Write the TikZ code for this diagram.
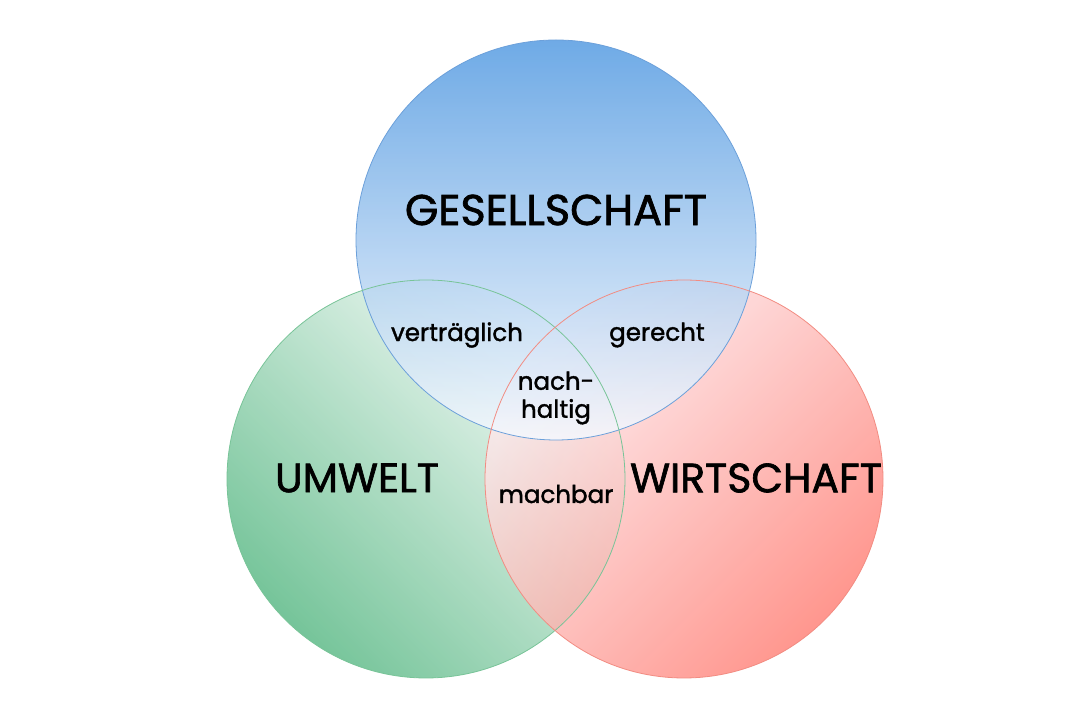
\documentclass[tikz,border=0pt]{standalone}
\usepackage{fontspec}
\setmainfont{Poppins}[FakeBold=1.6]
\definecolor{gblue}{RGB}{86,156,226}
\definecolor{gbluel}{RGB}{246,249,254}
\definecolor{ggreen}{RGB}{88,184,132}
\definecolor{ggreenl}{RGB}{248,252,250}
\definecolor{gred}{RGB}{255,128,118}
\definecolor{gredl}{RGB}{253,240,244}
\definecolor{lblue}{RGB}{108,160,218}
\definecolor{lgreen}{RGB}{120,196,152}
\definecolor{lred}{RGB}{242,140,130}
\tikzset{
  big/.style={font=\fontsize{41}{44}\selectfont, text=black},
  small/.style={font=\fontsize{24.5}{28}\selectfont, text=black, align=center},
}
\begin{document}
\begin{tikzpicture}[x=1pt,y=1pt]
\useasboundingbox[fill=white] (0,0) rectangle (1080,720);
% circles
\shade[fill opacity=0.82, top color=ggreenl, bottom color=ggreen, shading angle=-45] (426,241) circle (199);
\shade[fill opacity=0.82, top color=gredl, bottom color=gred, shading angle=45] (684,241) circle (199);
\shade[fill opacity=0.85, top color=gblue, bottom color=gbluel] (556,480) circle (200);
\draw[lblue, line width=0.8] (556,480) circle (200);
\draw[lgreen, line width=0.8] (426,241) circle (199);
\draw[lred, line width=0.8] (684,241) circle (199);
% labels
\node[big, font=\fontsize{43}{46}\selectfont] (ges) at (556,510) {GESELLSCHAFT};
\node[big] (umw) at (357,242) {UMWELT};
\node[big] (wir) at (756,242) {WIRTSCHAFT};
\node[small] (ver) at (457,385) {verträglich};
\node[small] (ger) at (657,385) {gerecht};
\node[small] (nac) at (556,322) {nach-\\haltig};
\node[small] (mac) at (556,226) {machbar};
\end{tikzpicture}
\end{document}
